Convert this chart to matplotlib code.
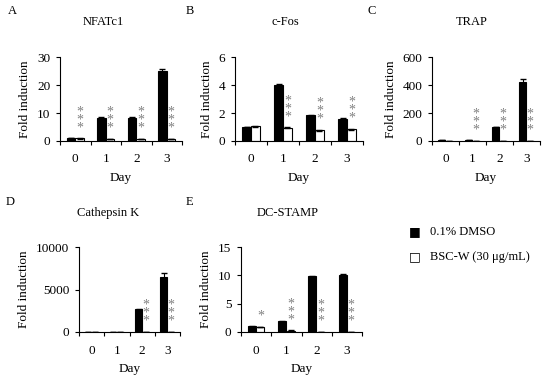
import matplotlib.pyplot as plt
import numpy as np

plt.rcParams['font.family'] = ['Liberation Serif', 'DejaVu Serif']

days = ['0', '1', '2', '3']

# NFATc1
nfat_dmso = [1.0, 8.2, 8.3, 25.0]
nfat_dmso_err = [0.1, 0.2, 0.2, 0.8]
nfat_bsc = [0.9, 0.7, 0.6, 0.6]
nfat_bsc_err = [0.05, 0.05, 0.05, 0.05]
nfat_sig = ['***', '***', '***', '***']

# c-Fos
cfos_dmso = [1.0, 4.0, 1.85, 1.6]
cfos_dmso_err = [0.03, 0.04, 0.04, 0.04]
cfos_bsc = [1.05, 0.95, 0.75, 0.85]
cfos_bsc_err = [0.03, 0.03, 0.03, 0.03]
cfos_sig = ['', '***', '***', '***']

# TRAP
trap_dmso = [5, 8, 100, 420]
trap_dmso_err = [0.5, 1, 3, 20]
trap_bsc = [2, 2, 3, 3]
trap_bsc_err = [0.2, 0.2, 0.2, 0.2]
trap_sig = ['', '***', '***', '***']

# Cathepsin K
ctsk_dmso = [10, 30, 2650, 6500]
ctsk_dmso_err = [1, 3, 60, 400]
ctsk_bsc = [5, 5, 10, 10]
ctsk_bsc_err = [0.5, 0.5, 1, 1]
ctsk_sig = ['', '', '***', '***']

# DC-STAMP
dcst_dmso = [1.0, 1.9, 9.8, 10.1]
dcst_dmso_err = [0.03, 0.05, 0.1, 0.1]
dcst_bsc = [0.85, 0.25, 0.05, 0.05]
dcst_bsc_err = [0.03, 0.02, 0.01, 0.01]
dcst_sig = ['*', '***', '***', '***']

W, H = 550, 383
fig = plt.figure(figsize=(W / 100, H / 100), dpi=100)


def px_axes(left, right, top, bottom):
    return fig.add_axes([left / W, 1 - bottom / H, (right - left) / W, (bottom - top) / H])


def panel(box, dmso, dmso_err, bsc, bsc_err, sig, ymax, yticks):
    ax = px_axes(*box)
    x = np.arange(len(days))
    bw = 0.27
    ax.bar(x - 0.14, dmso, bw, color='black', edgecolor='black', linewidth=0.8,
           yerr=dmso_err, error_kw=dict(ecolor='black', elinewidth=0.8, capsize=2))
    ax.bar(x + 0.14, bsc, bw, color='white', edgecolor='black', linewidth=0.8,
           yerr=bsc_err, error_kw=dict(ecolor='black', elinewidth=0.8, capsize=2))
    for xi, yi, ei, s in zip(x, bsc, bsc_err, sig):
        if s:
            ax.annotate('\n'.join(s), (xi + 0.14, yi + ei), xytext=(0, 3),
                        textcoords='offset points', ha='center', va='bottom',
                        color='#808080', fontsize=10, linespacing=0.5)
    ax.set_xlim(-0.5, 3.5)
    ax.set_ylim(0, ymax)
    ax.set_yticks(yticks)
    ax.set_xticks(x)
    ax.set_xticklabels(days)
    ax.set_xticks(np.arange(-0.5, 4, 1), minor=True)
    ax.tick_params(axis='x', which='major', length=0, labelsize=9.5, pad=9)
    ax.tick_params(axis='x', which='minor', length=3, width=0.8, direction='out')
    ax.tick_params(axis='y', length=3, width=0.8, labelsize=9.5, pad=4)
    for s in ['top', 'right']:
        ax.spines[s].set_visible(False)
    for s in ['left', 'bottom']:
        ax.spines[s].set_linewidth(0.8)
    ax.set_ylabel('Fold induction', fontsize=9.5, labelpad=4)
    ax.set_xlabel('Day', fontsize=9.5, labelpad=5)
    return ax


panel((60, 182, 57, 141), nfat_dmso, nfat_dmso_err, nfat_bsc, nfat_bsc_err,
      nfat_sig, 30, [0, 10, 20, 30])
panel((235, 363, 57, 141), cfos_dmso, cfos_dmso_err, cfos_bsc, cfos_bsc_err,
      cfos_sig, 6, [0, 2, 4, 6])
panel((432, 540, 57, 141), trap_dmso, trap_dmso_err, trap_bsc, trap_bsc_err,
      trap_sig, 600, [0, 200, 400, 600])
panel((79, 180, 247, 332), ctsk_dmso, ctsk_dmso_err, ctsk_bsc, ctsk_bsc_err,
      ctsk_sig, 10000, [0, 5000, 10000])
panel((241, 362, 247, 332), dcst_dmso, dcst_dmso_err, dcst_bsc, dcst_bsc_err,
      dcst_sig, 15, [0, 5, 10, 15])

# panel letters and titles in figure pixels
letters = [('A', 8, 11), ('B', 186, 11), ('C', 367, 11), ('D', 6, 202), ('E', 186, 202)]
titles = [('NFATc1', 103, 22), ('c-Fos', 285, 22), ('TRAP', 472, 22),
          ('Cathepsin K', 108, 213), ('DC-STAMP', 288, 213)]
for t, xp, yp in letters:
    fig.text(xp / W, 1 - yp / H, t, fontsize=9, ha='left', va='center')
for t, xp, yp in titles:
    fig.text(xp / W, 1 - yp / H, t, fontsize=9, ha='center', va='center')

# legend
legend_labels = ['0.1% DMSO', 'BSC-W (30 \u03bcg/mL)']
legend_colors = ['black', 'white']
for i, (lab, c) in enumerate(zip(legend_labels, legend_colors)):
    yp = 232 + i * 25
    fig.text(415 / W, 1 - yp / H, '\u25a0' if c == 'black' else '\u25a1', fontsize=9,
             ha='center', va='center', family='DejaVu Sans')
    fig.text(430 / W, 1 - yp / H, lab, fontsize=9, ha='left', va='center')

fig.savefig('out.png', dpi=100)
